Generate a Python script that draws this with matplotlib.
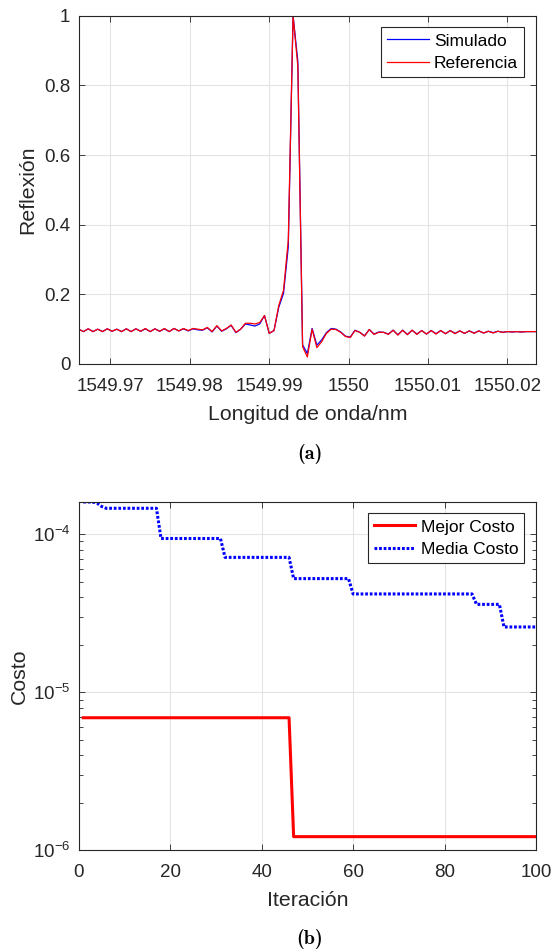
import numpy as np
import matplotlib
matplotlib.use("Agg")
import matplotlib.pyplot as plt
from matplotlib.ticker import FixedLocator, FuncFormatter, LogLocator, LogFormatterSciNotation, NullFormatter

plt.rcParams['font.family'] = ['Liberation Sans', 'DejaVu Sans']
plt.rcParams['mathtext.fontset'] = 'custom'
plt.rcParams['mathtext.rm'] = 'Liberation Sans'
plt.rcParams['mathtext.it'] = 'Liberation Sans:italic'
plt.rcParams['mathtext.bf'] = 'Liberation Sans:bold'
plt.rcParams['mathtext.sf'] = 'Liberation Sans'

# ---------------- (a) reflection spectrum ----------------
wl_start, wl_stop, n_points = 1549.966, 1550.0236, 97
wavelength = np.linspace(wl_start, wl_stop, n_points)

referencia = [
    0.100, 0.093, 0.101, 0.093, 0.100, 0.093, 0.101, 0.094, 0.100, 0.093,
    0.101, 0.093, 0.101, 0.094, 0.102, 0.093, 0.101, 0.094, 0.102, 0.093,
    0.102, 0.095, 0.102, 0.096, 0.102, 0.100, 0.098, 0.105, 0.093, 0.110,
    0.095, 0.102, 0.112, 0.091, 0.100, 0.117, 0.117, 0.115, 0.119, 0.139,
    0.088, 0.096, 0.168, 0.212, 0.356, 1.000, 0.855, 0.050, 0.020, 0.100,
    0.047, 0.064, 0.088, 0.100, 0.099, 0.091, 0.079, 0.076, 0.096, 0.091,
    0.080, 0.099, 0.085, 0.091, 0.091, 0.085, 0.097, 0.083, 0.097, 0.084,
    0.097, 0.085, 0.096, 0.086, 0.096, 0.086, 0.096, 0.087, 0.096, 0.087,
    0.095, 0.088, 0.095, 0.088, 0.095, 0.089, 0.094, 0.089, 0.094, 0.091,
    0.093, 0.092, 0.093, 0.092, 0.093, 0.093, 0.093,
]

simulado = [
    0.100, 0.093, 0.101, 0.093, 0.100, 0.093, 0.101, 0.094, 0.100, 0.093,
    0.101, 0.093, 0.101, 0.094, 0.101, 0.093, 0.101, 0.094, 0.101, 0.093,
    0.102, 0.095, 0.101, 0.095, 0.101, 0.098, 0.097, 0.104, 0.092, 0.109,
    0.094, 0.101, 0.111, 0.090, 0.100, 0.115, 0.112, 0.109, 0.115, 0.139,
    0.088, 0.096, 0.163, 0.203, 0.337, 1.000, 0.870, 0.055, 0.030, 0.102,
    0.054, 0.069, 0.090, 0.102, 0.100, 0.092, 0.080, 0.077, 0.097, 0.091,
    0.081, 0.099, 0.086, 0.092, 0.091, 0.086, 0.097, 0.084, 0.097, 0.085,
    0.097, 0.086, 0.096, 0.086, 0.096, 0.087, 0.096, 0.087, 0.096, 0.088,
    0.095, 0.088, 0.095, 0.089, 0.095, 0.089, 0.094, 0.090, 0.094, 0.091,
    0.093, 0.092, 0.093, 0.092, 0.093, 0.093, 0.093,
]

wl_ticks = [1549.97, 1549.98, 1549.99, 1550.0, 1550.01, 1550.02]
refl_ticks = [0, 0.2, 0.4, 0.6, 0.8, 1.0]

# ---------------- (b) cost convergence ----------------
iterations = np.arange(1, 101)
best_cost_levels = [6.9e-6, 1.22e-6]
best_cost_from = [1, 47]
mean_cost_levels = [1.6e-4, 1.575e-4, 1.5e-4, 1.46e-4, 9.4e-5, 7.14e-5,
                    5.24e-5, 4.19e-5, 3.6e-5, 2.59e-5]
mean_cost_from = [1, 4, 5, 6, 18, 32, 47, 60, 87, 93]
iter_ticks = [0, 20, 40, 60, 80, 100]


def expand_levels(levels, starts, n):
    counts = np.diff(list(starts) + [n + 1])
    return np.repeat(levels, counts)


best_cost = expand_levels(best_cost_levels, best_cost_from, len(iterations))
mean_cost = expand_levels(mean_cost_levels, mean_cost_from, len(iterations))

# ---------------- figure ----------------
W, H = 554, 952
fig = plt.figure(figsize=(W / 100, H / 100), dpi=100)

axis_col = '#262626'
grid_col = '#e3e3e3'
tick_fs = 13.5
label_fs = 15.3
legend_fs = 12.5


def px_axes(left, top, right, bottom):
    return fig.add_axes([left / W, 1 - bottom / H, (right - left) / W, (bottom - top) / H])


def style(ax):
    for s in ax.spines.values():
        s.set_color(axis_col)
        s.set_linewidth(0.8)
    ax.tick_params(which='both', direction='in', top=True, right=True,
                   colors=axis_col, labelcolor=axis_col, labelsize=tick_fs, width=0.6)
    ax.tick_params(which='major', length=4.5)
    ax.tick_params(axis='x', pad=10)
    ax.tick_params(axis='y', pad=6)
    ax.grid(True, which='major', color=grid_col, linewidth=0.8)
    ax.set_axisbelow(True)


def add_legend(ax, anchor):
    leg = ax.legend(loc='upper right', bbox_to_anchor=anchor, borderaxespad=0,
                    fontsize=legend_fs, fancybox=False, framealpha=1, edgecolor='#262626',
                    handlelength=2.4, handletextpad=0.3, borderpad=0.35, labelspacing=0.4)
    leg.get_frame().set_linewidth(0.8)
    return leg


ax1 = px_axes(78.7, 15.7, 536, 364)
ax1.plot(wavelength, simulado, color=(0, 0, 1), linewidth=0.9, label='Simulado')
ax1.plot(wavelength, referencia, color=(1, 0, 0), linewidth=0.9, label='Referencia')
ax1.set_xlim(wavelength[0], wavelength[-1])
ax1.set_ylim(0, 1)
ax1.xaxis.set_major_locator(FixedLocator(wl_ticks))
ax1.xaxis.set_major_formatter(FuncFormatter(lambda v, p: f'{v:g}'))
ax1.yaxis.set_major_locator(FixedLocator(refl_ticks))
ax1.yaxis.set_major_formatter(FuncFormatter(lambda v, p: f'{v:g}'))
style(ax1)
ax1.set_xlabel('Longitud de onda/nm', fontsize=label_fs, color=axis_col, labelpad=7)
ax1.set_ylabel('Reflexión', fontsize=label_fs, color=axis_col, labelpad=5)
add_legend(ax1, (0.9744, 0.9667))

ax2 = px_axes(78.7, 502, 536, 850.3)
ax2.plot(iterations, best_cost, color=(1, 0, 0), linewidth=2.2, label='Mejor Costo')
ax2.plot(iterations, mean_cost, color=(0, 0, 1), linewidth=2.2,
         linestyle=(0, (0.9, 0.6)), label='Media Costo')
ax2.set_yscale('log')
ax2.set_xlim(0, 100)
ax2.set_ylim(1e-6, max(mean_cost_levels))
ax2.xaxis.set_major_locator(FixedLocator(iter_ticks))
ax2.yaxis.set_major_locator(LogLocator(base=10, numticks=10))
ax2.yaxis.set_major_formatter(LogFormatterSciNotation())
ax2.yaxis.set_minor_locator(LogLocator(base=10, subs=np.arange(2, 10), numticks=20))
ax2.yaxis.set_minor_formatter(NullFormatter())
style(ax2)
ax2.tick_params(which='minor', length=2.6, width=0.6)
ax2.set_xlabel('Iteración', fontsize=label_fs, color=axis_col, labelpad=7)
ax2.set_ylabel('Costo', fontsize=label_fs, color=axis_col, labelpad=3)
add_legend(ax2, (0.9744, 0.9676))

fig.text(310 / W, 1 - 454 / H, '(a)', family=['cmb10', 'DejaVu Serif'], fontsize=14.5,
         ha='center', va='center', color='black')
fig.text(310 / W, 1 - 939 / H, '(b)', family=['cmb10', 'DejaVu Serif'], fontsize=14.5,
         ha='center', va='center', color='black')

fig.savefig('out.png', dpi=100, facecolor='white')
